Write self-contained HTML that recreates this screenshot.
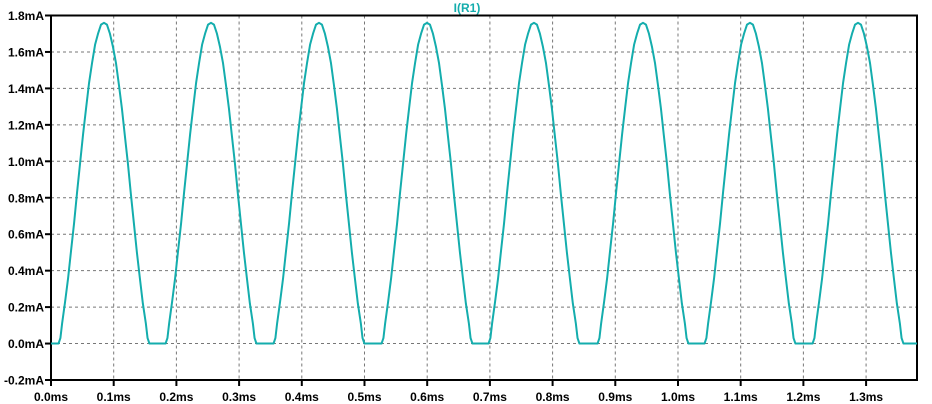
<!DOCTYPE html>
<html><head><meta charset="utf-8"><style>
html,body{margin:0;padding:0;background:#fff;}
svg{display:block;font-family:"Liberation Sans",Arial,sans-serif;font-weight:bold;font-size:12px;}
</style></head><body>
<svg id="chart" width="932" height="404">
<g id="grid"></g>
<g id="axes"></g>
<path id="trace" fill="none" stroke="#14adad" stroke-width="2" stroke-linejoin="round"></path>
<text x="467" y="12" text-anchor="middle" fill="#14adad">I(R1)</text>
</svg>
<script>
const xTicks = [0,0.1,0.2,0.3,0.4,0.5,0.6,0.7,0.8,0.9,1.0,1.1,1.2,1.3];
const xTickLabels = ["0.0ms","0.1ms","0.2ms","0.3ms","0.4ms","0.5ms","0.6ms","0.7ms","0.8ms","0.9ms","1.0ms","1.1ms","1.2ms","1.3ms"];
const yTicks = [-0.2,0,0.2,0.4,0.6,0.8,1.0,1.2,1.4,1.6,1.8];
const yTickLabels = ["-0.2mA","0.0mA","0.2mA","0.4mA","0.6mA","0.8mA","1.0mA","1.2mA","1.4mA","1.6mA","1.8mA"];
const riseStarts = [0.012,0.1827,0.3549,0.5272,0.6978,0.8717,1.0423,1.2146];
const shapeT = [0,0.003,0.0057,0.0105,0.0153,0.02,0.0248,0.0296,0.0344,0.0392,0.0439,0.0487,0.0535,0.0583,0.063,0.0678,0.0725,0.0772,0.082,0.0867,0.0916,0.0963,0.1011,0.1058,0.1106,0.1154,0.1202,0.125,0.1297,0.1345,0.1393,0.142,0.145];
const shapeI = [0,0.03,0.11,0.23,0.36,0.51,0.66,0.83,0.99,1.15,1.29,1.43,1.54,1.64,1.70,1.75,1.76,1.75,1.70,1.63,1.54,1.42,1.29,1.14,0.99,0.82,0.66,0.50,0.36,0.22,0.11,0.03,0];
const xMin=0, xMax=1.3812, yMin=-0.2, yMax=1.8;
const L=51, R=917, T=15.5, B=380;
const sx = v => L + (v-xMin)/(xMax-xMin)*(R-L);
const sy = v => B - (v-yMin)/(yMax-yMin)*(B-T);
const NS="http://www.w3.org/2000/svg";
const grid=document.getElementById('grid'), axes=document.getElementById('axes');
function mk(tag, attrs, parent){const e=document.createElementNS(NS,tag);for(const k in attrs)e.setAttribute(k,attrs[k]);parent.appendChild(e);return e;}
xTicks.forEach((t,i)=>{
  const x=sx(t);
  if(i>0){const g=mk('line',{x1:x,x2:x,y1:T,y2:B,stroke:'#777','stroke-dasharray':'3,3','stroke-width':1},grid);
  
  }
  const tk=mk('line',{x1:x,x2:x,y1:B,y2:B+6,stroke:'#000','stroke-width':2},axes);
  
  
  const tx=mk('text',{x:x,y:401,'text-anchor':'middle',fill:'#000'},axes);
  tx.textContent=xTickLabels[i];
  
  
});
yTicks.forEach((v,i)=>{
  const y=sy(v);
  if(i>0 && i<yTicks.length-1){const g=mk('line',{x1:L,x2:R,y1:y,y2:y,stroke:'#777','stroke-dasharray':'3,3','stroke-width':1},grid);
  
  }
  const tk=mk('line',{x1:L-6,x2:L,y1:y,y2:y,stroke:'#000','stroke-width':2},axes);
  
  
  const tx=mk('text',{x:L-7,y:y+4.5,'text-anchor':'end',fill:'#000'},axes);
  tx.textContent=yTickLabels[i];
  
  
});
const fr=mk('rect',{x:L,y:T,width:R-L,height:B-T,fill:'none',stroke:'#000','stroke-width':2},axes);


let pts=[[xMin,0]];
riseStarts.forEach(s=>{shapeT.forEach((o,j)=>pts.push([s+o,shapeI[j]]));});
pts.push([xMax,0]);
document.getElementById('trace').setAttribute('d',pts.map((p,i)=>(i?'L':'M')+sx(p[0]).toFixed(2)+','+sy(p[1]).toFixed(2)).join(''));
</script>
</body></html>
